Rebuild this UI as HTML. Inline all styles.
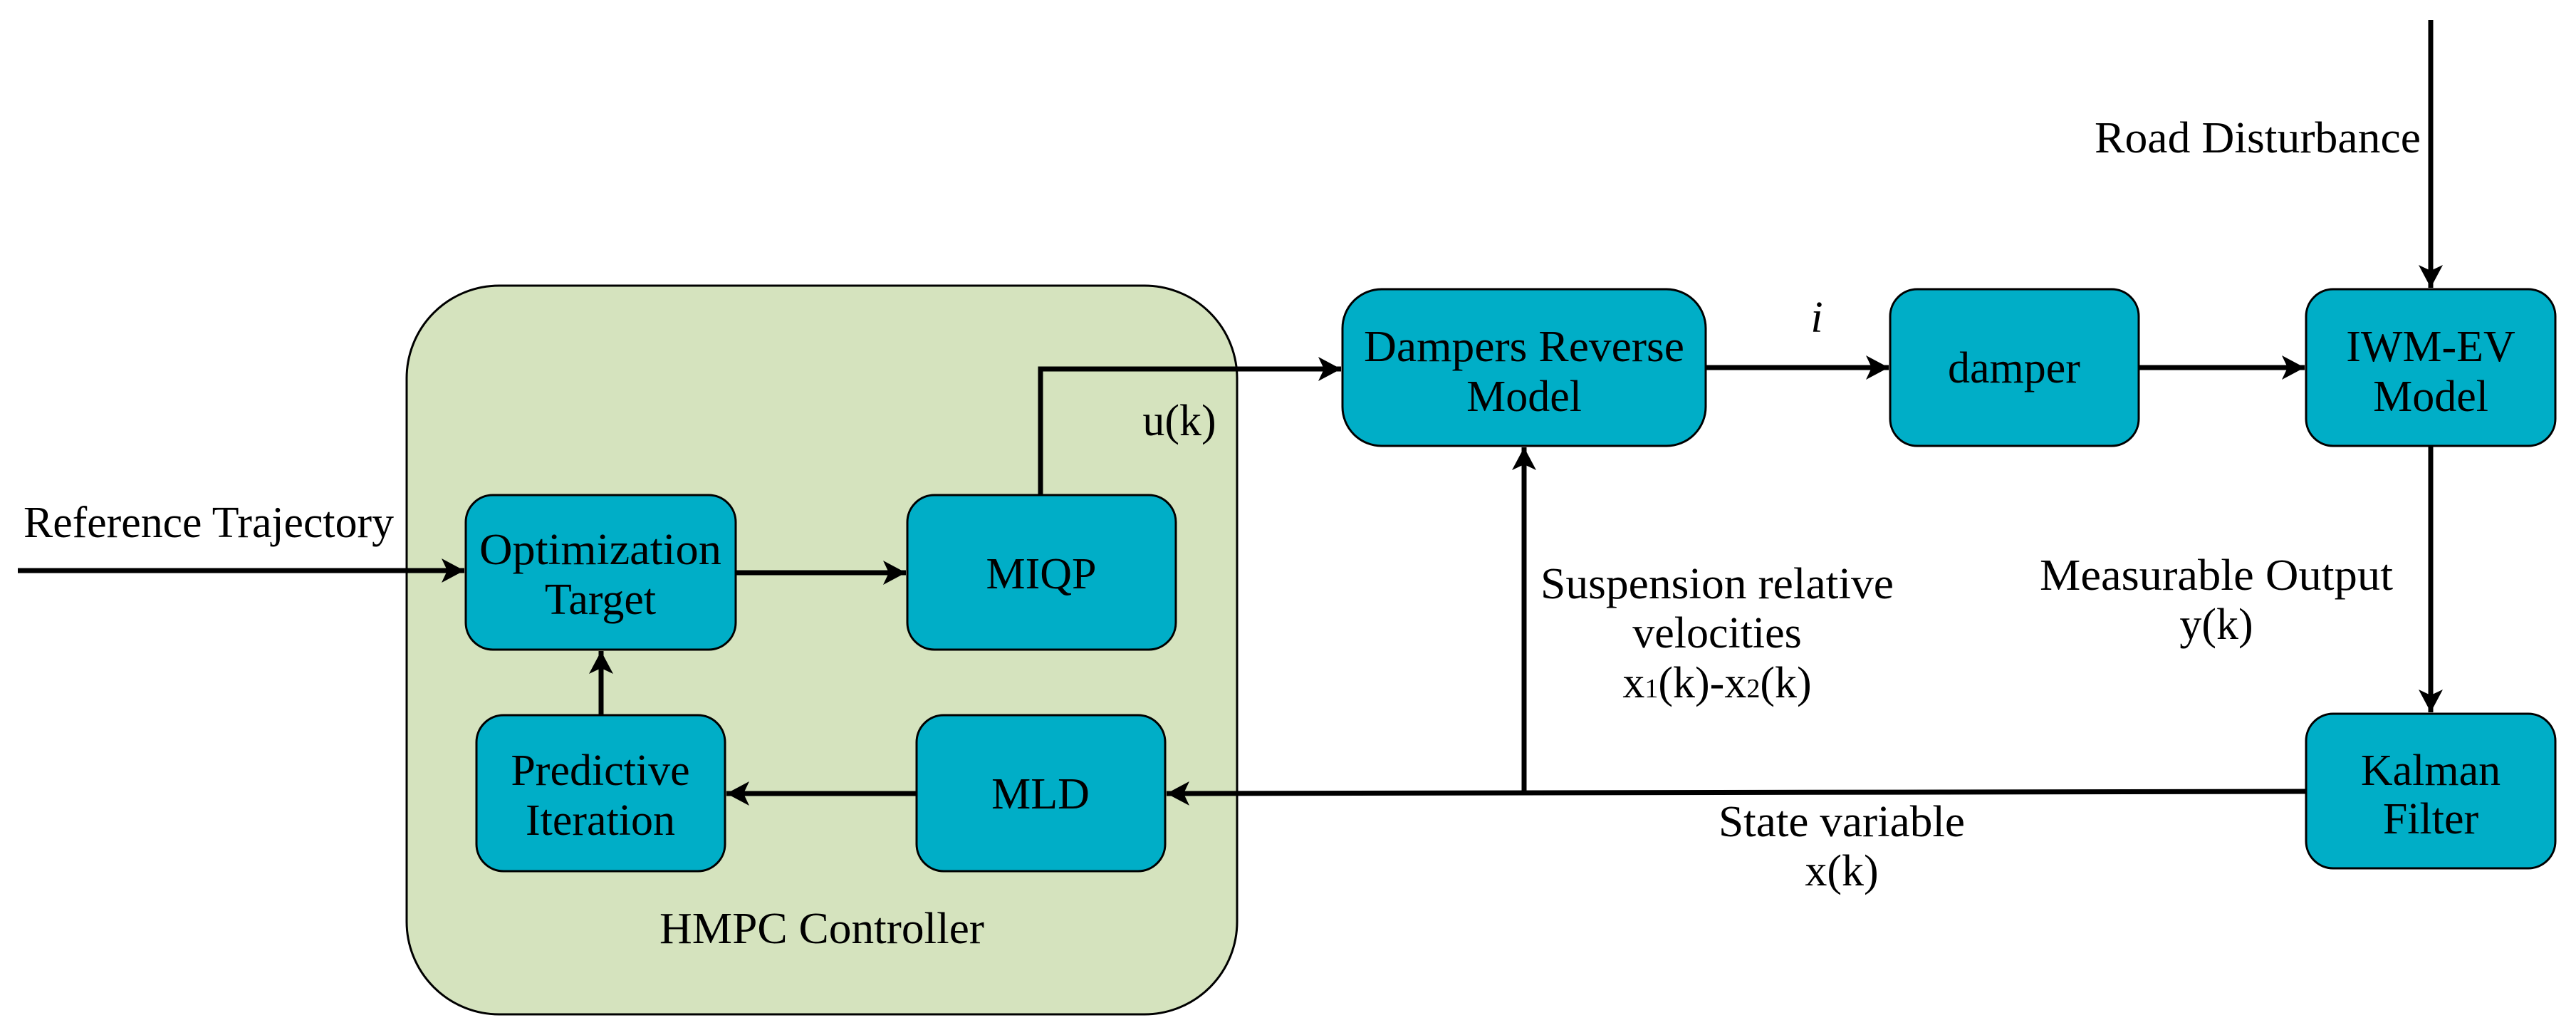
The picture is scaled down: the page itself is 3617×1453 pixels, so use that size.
<!DOCTYPE html>
<html><head><meta charset="utf-8"><style>
html,body{margin:0;padding:0;background:#fff;}
svg{display:block;}
</style></head><body>
<svg width="3617" height="1453" viewBox="0 0 3617 1453" xmlns="http://www.w3.org/2000/svg">
<defs>
<marker id="a" markerUnits="userSpaceOnUse" markerWidth="34" markerHeight="34" refX="32" refY="17" orient="auto">
<path d="M0,0 L32,17 L0,34 L8,17 Z" fill="#000"/>
</marker>
</defs>
<rect x="571" y="401" width="1166" height="1023" rx="130" ry="130" fill="#D5E3BE" stroke="#000" stroke-width="3"/>
<g fill="#00AEC7" stroke="#000" stroke-width="3">
<rect x="654" y="695" width="379" height="217" rx="38"/>
<rect x="1274" y="695" width="377" height="217" rx="38"/>
<rect x="669" y="1004" width="349" height="219" rx="38"/>
<rect x="1287" y="1004" width="349" height="219" rx="38"/>
<rect x="1885" y="406" width="510" height="220" rx="55"/>
<rect x="2654" y="406" width="349" height="220" rx="38"/>
<rect x="3238" y="406" width="350" height="220" rx="38"/>
<rect x="3238" y="1002" width="350" height="217" rx="38"/>
</g>
<g stroke="#000" stroke-width="7" fill="none">
<line x1="25" y1="801" x2="652" y2="801" marker-end="url(#a)"/>
<line x1="1033" y1="804" x2="1272" y2="804" marker-end="url(#a)"/>
<line x1="844" y1="1004" x2="844" y2="914" marker-end="url(#a)"/>
<line x1="1287" y1="1114" x2="1020" y2="1114" marker-end="url(#a)"/>
<polyline points="1461,695 1461,518 1883,518" marker-end="url(#a)"/>
<line x1="2395" y1="516" x2="2652" y2="516" marker-end="url(#a)"/>
<line x1="3003" y1="516" x2="3236" y2="516" marker-end="url(#a)"/>
<line x1="3413" y1="28" x2="3413" y2="404" marker-end="url(#a)"/>
<line x1="3413" y1="626" x2="3413" y2="1000" marker-end="url(#a)"/>
<line x1="3238" y1="1111" x2="1638" y2="1114" marker-end="url(#a)"/>
<line x1="2140" y1="1113" x2="2140" y2="628" marker-end="url(#a)"/>
</g>
<g font-family="'Liberation Serif', serif" style="font-family:'Liberation Serif',serif" font-size="62" text-anchor="middle" fill="#000">
<text x="293" y="754" textLength="520" lengthAdjust="spacingAndGlyphs">Reference Trajectory</text>
<text x="843" y="792" textLength="340" lengthAdjust="spacingAndGlyphs">Optimization</text>
<text x="843" y="862">Target</text>
<text x="1462" y="826">MIQP</text>
<text x="843" y="1102">Predictive</text>
<text x="843" y="1172">Iteration</text>
<text x="1461" y="1135">MLD</text>
<text x="1154" y="1324" textLength="456" lengthAdjust="spacingAndGlyphs">HMPC Controller</text>
<text x="1656" y="611">u(k)</text>
<text x="2140" y="507" textLength="450" lengthAdjust="spacingAndGlyphs">Dampers Reverse</text>
<text x="2140" y="577">Model</text>
<text x="2551" y="466" font-style="italic">i</text>
<text x="2828" y="537">damper</text>
<text x="3413" y="507">IWM-EV</text>
<text x="3413" y="577">Model</text>
<text x="3170" y="214" textLength="458" lengthAdjust="spacingAndGlyphs">Road Disturbance</text>
<text x="3112" y="828" textLength="496" lengthAdjust="spacingAndGlyphs">Measurable Output</text>
<text x="3112" y="897">y(k)</text>
<text x="3413" y="1102">Kalman</text>
<text x="3413" y="1170">Filter</text>
<text x="2411" y="840" textLength="496" lengthAdjust="spacingAndGlyphs">Suspension relative</text>
<text x="2411" y="909">velocities</text>
<text x="2411" y="979">x<tspan font-size="38">1</tspan>(k)-x<tspan font-size="38">2</tspan>(k)</text>
<text x="2586" y="1174" textLength="346" lengthAdjust="spacingAndGlyphs">State variable</text>
<text x="2586" y="1243">x(k)</text>
</g>
</svg>
</body></html>
